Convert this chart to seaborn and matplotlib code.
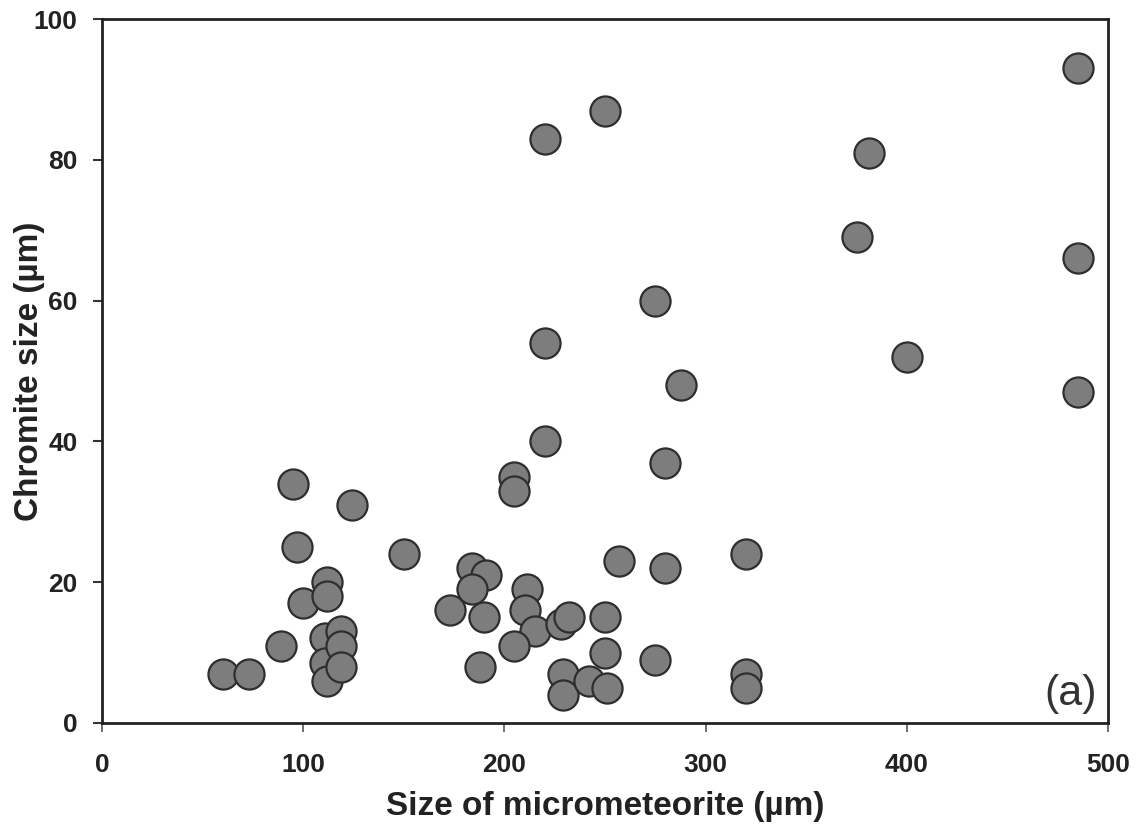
import matplotlib
matplotlib.use("Agg")
import matplotlib.pyplot as plt
import seaborn as sns
import pandas as pd

# Data
micrometeorite_size = [60, 73, 89, 95, 97, 100, 112, 112, 111, 111, 112, 119, 119, 119, 124,
                       150, 173, 184, 191, 184, 190, 188, 205, 205, 220, 211, 210, 215, 205,
                       228, 232, 229, 229, 242, 251, 250, 250, 257, 275, 280, 280, 320, 320, 320,
                       220, 220, 250, 275, 288, 375, 381, 400, 485, 485, 485]
chromite_size = [7, 7, 11, 34, 25, 17, 20, 18, 12, 8.5, 6, 13, 11, 8, 31,
                 24, 16, 22, 21, 19, 15, 8, 35, 33, 40, 19, 16, 13, 11,
                 14, 15, 7, 4, 6, 5, 15, 10, 23, 9, 22, 37, 24, 7, 5,
                 54, 83, 87, 60, 48, 69, 81, 52, 93, 66, 47]
x_ticks = [0, 100, 200, 300, 400, 500]
y_ticks = [0, 20, 40, 60, 80, 100]
x_label = "Size of micrometeorite (µm)"
y_label = "Chromite size (µm)"
panel_label = "(a)"

df = pd.DataFrame({"x": micrometeorite_size, "y": chromite_size})

sns.set_style("white")
plt.rcParams['font.family'] = ['Liberation Sans', 'DejaVu Sans']

fig = plt.figure(figsize=(11.45, 8.27), dpi=100)
ax = fig.add_axes([0.0891, 0.1258, 0.8786, 0.8512])

sns.scatterplot(data=df, x="x", y="y", ax=ax, s=470, color="#7d7d7d",
                edgecolor="#2e2e2e", linewidth=1.6, legend=False, zorder=3)

ax.set_xlim(0, 500)
ax.set_ylim(0, 100)
ax.set_xticks(x_ticks)
ax.set_yticks(y_ticks)
ax.set_xticklabels([str(t) for t in x_ticks], fontsize=19, fontweight='bold', color='#222222')
ax.set_yticklabels([str(t) for t in y_ticks], fontsize=19, fontweight='bold', color='#222222')
ax.tick_params(axis='x', direction='out', length=6.5, width=1.2, color='#555555', pad=15,
               bottom=True, top=False)
ax.tick_params(axis='y', direction='out', length=6.5, width=1.5, color='#333333', pad=11,
               left=True, right=False)
ax.set_xlabel(x_label, fontsize=24, fontweight='bold', color='#222222')
ax.set_ylabel(y_label, fontsize=24, fontweight='bold', color='#222222')
ax.xaxis.set_label_coords(0.5, -0.0966)
ax.yaxis.set_label_coords(-0.0567, 0.5)

for sp in ax.spines.values():
    sp.set_visible(True)
    sp.set_color('#222222')
    sp.set_linewidth(2)

ax.text(0.989, 0.013, panel_label, transform=ax.transAxes, ha='right', va='bottom',
        fontsize=31, color='#333333')

fig.savefig("out.png", dpi=100)
